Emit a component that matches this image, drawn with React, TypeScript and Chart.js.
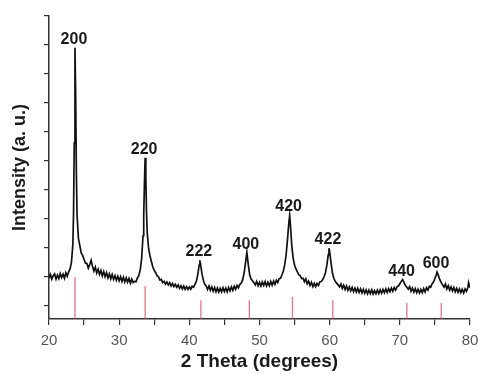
import { useEffect, useRef } from "react";
import { Chart, registerables } from "chart.js";

Chart.register(...registerables);

// XRD scan: [2 theta (deg), intensity (a. u., tick units)]
const xrdScan: [number, number][] = [
  [20.0, 0.93], [20.2, 1.06], [20.4, 0.9], [20.6, 1.02], [20.8, 1.08], [21.0, 0.9],
  [21.2, 1.04], [21.4, 0.92], [21.6, 1.09], [21.8, 0.95], [22.0, 1.07], [22.2, 0.93],
  [22.4, 1.12], [22.6, 1.0], [22.8, 1.15], [23.0, 1.25], [23.2, 1.48], [23.4, 2.1],
  [23.5, 3.2], [23.6, 5.6], [23.7, 8.9], [23.8, 7.3], [23.9, 4.6], [24.0, 3.1],
  [24.2, 2.3], [24.4, 2.05], [24.6, 1.8], [24.8, 1.72], [25.0, 1.58], [25.2, 1.45],
  [25.4, 1.44], [25.6, 1.28], [25.8, 1.4], [26.0, 1.55], [26.2, 1.34], [26.4, 1.18],
  [26.6, 1.32], [26.8, 1.11], [27.0, 1.24], [27.2, 1.06], [27.4, 1.2], [27.6, 1.01],
  [27.8, 1.16], [28.0, 0.98], [28.2, 1.12], [28.4, 0.94], [28.6, 1.08], [28.8, 0.91],
  [29.0, 1.06], [29.2, 0.89], [29.4, 1.02], [29.6, 0.86], [29.8, 1.0], [30.0, 0.84],
  [30.2, 0.98], [30.4, 0.82], [30.6, 0.96], [30.8, 0.8], [31.0, 0.94], [31.2, 0.79],
  [31.4, 0.92], [31.6, 0.76], [31.8, 0.9], [32.0, 0.78], [32.2, 0.82], [32.4, 0.81],
  [32.6, 0.94], [32.8, 1.02], [33.0, 1.22], [33.2, 1.6], [33.4, 2.4], [33.5, 3.1],
  [33.6, 4.2], [33.7, 5.1], [33.8, 4.4], [33.9, 3.2], [34.0, 2.5], [34.2, 1.95],
  [34.4, 1.7], [34.6, 1.5], [34.8, 1.32], [35.0, 1.2], [35.2, 1.12], [35.4, 1.02],
  [35.6, 0.98], [35.8, 0.87], [36.0, 0.89], [36.2, 0.78], [36.4, 0.82], [36.6, 0.72],
  [36.8, 0.8], [37.0, 0.7], [37.2, 0.78], [37.4, 0.66], [37.6, 0.75], [37.8, 0.64],
  [38.0, 0.72], [38.2, 0.62], [38.4, 0.7], [38.6, 0.58], [38.8, 0.67], [39.0, 0.56],
  [39.2, 0.66], [39.4, 0.55], [39.6, 0.64], [39.8, 0.54], [40.0, 0.63], [40.2, 0.55],
  [40.4, 0.65], [40.6, 0.62], [40.8, 0.72], [41.0, 0.82], [41.2, 1.05], [41.4, 1.38],
  [41.5, 1.55], [41.6, 1.42], [41.8, 1.08], [42.0, 0.86], [42.2, 0.72], [42.4, 0.66],
  [42.6, 0.54], [42.8, 0.66], [43.0, 0.51], [43.2, 0.63], [43.4, 0.48], [43.6, 0.61],
  [43.8, 0.46], [44.0, 0.59], [44.2, 0.45], [44.4, 0.58], [44.6, 0.46], [44.8, 0.6],
  [45.0, 0.47], [45.2, 0.59], [45.4, 0.46], [45.6, 0.61], [45.8, 0.49], [46.0, 0.63],
  [46.2, 0.51], [46.4, 0.65], [46.6, 0.55], [46.8, 0.68], [47.0, 0.6], [47.2, 0.72],
  [47.4, 0.76], [47.6, 0.88], [47.8, 1.1], [48.0, 1.45], [48.2, 1.82], [48.4, 1.4],
  [48.6, 1.05], [48.8, 0.9], [49.0, 0.84], [49.2, 0.78], [49.4, 0.7], [49.6, 0.82],
  [49.8, 0.67], [50.0, 0.79], [50.2, 0.66], [50.4, 0.8], [50.6, 0.68], [50.8, 0.81],
  [51.0, 0.66], [51.2, 0.79], [51.4, 0.67], [51.6, 0.82], [51.8, 0.69], [52.0, 0.83],
  [52.2, 0.72], [52.4, 0.86], [52.6, 0.78], [52.8, 0.92], [53.0, 0.93], [53.2, 1.05],
  [53.4, 1.18], [53.6, 1.4], [53.8, 1.75], [54.0, 2.3], [54.2, 2.9], [54.3, 3.1],
  [54.4, 2.8], [54.6, 2.05], [54.8, 1.62], [55.0, 1.38], [55.2, 1.25], [55.4, 1.15],
  [55.6, 1.05], [55.8, 1.02], [56.0, 0.92], [56.2, 0.93], [56.4, 0.81], [56.6, 0.91],
  [56.8, 0.74], [57.0, 0.83], [57.2, 0.68], [57.4, 0.79], [57.6, 0.64], [57.8, 0.75],
  [58.0, 0.64], [58.2, 0.75], [58.4, 0.68], [58.6, 0.8], [58.8, 0.82], [59.0, 0.88],
  [59.2, 0.98], [59.4, 1.12], [59.6, 1.38], [59.8, 1.75], [59.9, 1.97], [60.0, 1.85],
  [60.2, 1.45], [60.4, 1.1], [60.6, 0.92], [60.8, 0.82], [61.0, 0.76], [61.2, 0.7],
  [61.4, 0.63], [61.6, 0.73], [61.8, 0.58], [62.0, 0.69], [62.2, 0.54], [62.4, 0.66],
  [62.6, 0.51], [62.8, 0.63], [63.0, 0.49], [63.2, 0.61], [63.4, 0.47], [63.6, 0.59],
  [63.8, 0.45], [64.0, 0.58], [64.2, 0.44], [64.4, 0.56], [64.6, 0.42], [64.8, 0.55],
  [65.0, 0.41], [65.2, 0.53], [65.4, 0.39], [65.6, 0.52], [65.8, 0.4], [66.0, 0.53],
  [66.2, 0.38], [66.4, 0.5], [66.6, 0.39], [66.8, 0.52], [67.0, 0.4], [67.2, 0.53],
  [67.4, 0.41], [67.6, 0.54], [67.8, 0.43], [68.0, 0.56], [68.2, 0.44], [68.4, 0.57],
  [68.6, 0.46], [68.8, 0.59], [69.0, 0.48], [69.2, 0.61], [69.4, 0.52], [69.6, 0.64],
  [69.8, 0.66], [70.0, 0.74], [70.2, 0.82], [70.4, 0.88], [70.6, 0.78], [70.8, 0.68],
  [71.0, 0.62], [71.2, 0.55], [71.4, 0.64], [71.6, 0.48], [71.8, 0.59], [72.0, 0.45],
  [72.2, 0.57], [72.4, 0.43], [72.6, 0.55], [72.8, 0.42], [73.0, 0.54], [73.2, 0.43],
  [73.4, 0.57], [73.6, 0.46], [73.8, 0.6], [74.0, 0.52], [74.2, 0.65], [74.4, 0.62],
  [74.6, 0.74], [74.8, 0.8], [75.0, 0.92], [75.2, 1.05], [75.3, 1.14], [75.5, 1.02],
  [75.7, 0.88], [75.9, 0.78], [76.1, 0.7], [76.3, 0.62], [76.5, 0.73], [76.7, 0.56],
  [76.9, 0.67], [77.1, 0.52], [77.3, 0.63], [77.5, 0.49], [77.7, 0.61], [77.9, 0.46],
  [78.1, 0.58], [78.3, 0.44], [78.5, 0.56], [78.7, 0.43], [78.9, 0.55], [79.1, 0.42],
  [79.3, 0.56], [79.5, 0.48], [79.7, 0.62], [79.8, 0.78], [80.0, 0.6],
];

// Miller-index labels of the peaks
const hklLabels = ["200", "220", "222", "400", "420", "422", "440", "600"];
const peakAngles = [23.7, 33.7, 41.5, 48.2, 54.3, 59.9, 70.4, 75.3];
const peakIntensities = [8.9, 5.1, 1.55, 1.82, 3.1, 1.97, 0.88, 1.14];

// Reference pattern sticks (red)
const refAngles = [23.7, 33.7, 41.65, 48.55, 54.7, 60.45, 71.0, 75.9];
const refIntensities = [0.97, 0.66, 0.17, 0.17, 0.28, 0.17, 0.07, 0.07];

const xMin = 20;
const xMax = 80;
const yMin = -0.48;
const yMax = 10;

const FONT = '"Liberation Sans", Arial, Helvetica, sans-serif';

const peakLabelPlugin = {
  id: "peakLabels",
  afterDatasetsDraw(chart: any) {
    const { ctx, scales } = chart;
    const xs = scales.x;
    const ys = scales.y;
    ctx.save();
    ctx.font = `bold 16px ${FONT}`;
    ctx.fillStyle = "#1a1a1a";
    ctx.textAlign = "center";
    ctx.textBaseline = "alphabetic";
    hklLabels.forEach((t, i) => {
      ctx.fillText(t, xs.getPixelForValue(peakAngles[i]) - 1, ys.getPixelForValue(peakIntensities[i]) - 4);
    });
    ctx.restore();
  },
};

export default function App() {
  const canvasRef = useRef<HTMLCanvasElement | null>(null);

  useEffect(() => {
    const canvas = canvasRef.current;
    if (!canvas) return;

    const sticks: { x: number; y: number | null }[] = [];
    refAngles.forEach((a, i) => {
      sticks.push({ x: a, y: yMin });
      sticks.push({ x: a, y: refIntensities[i] });
      sticks.push({ x: a, y: null });
    });

    const chart = new Chart(canvas, {
      type: "line",
      data: {
        datasets: [
          {
            label: "XRD",
            data: xrdScan.map(([x, y]) => ({ x, y })),
            borderColor: "#111111",
            borderWidth: 1.7,
            pointRadius: 0,
            tension: 0,
            fill: false,
          },
          {
            label: "Reference",
            data: sticks as any,
            borderColor: "rgba(222, 70, 90, 0.75)",
            borderWidth: 1.3,
            pointRadius: 0,
            spanGaps: false,
            fill: false,
          },
        ],
      },
      options: {
        animation: false,
        responsive: false,
        maintainAspectRatio: false,
        layout: { padding: { left: 0, right: 9, top: 16, bottom: 0 } },
        plugins: {
          legend: { display: false },
          tooltip: { enabled: false },
        },
        scales: {
          x: {
            type: "linear",
            min: xMin,
            max: xMax,
            afterFit: (s: any) => {
              s.height = 55;
              s.paddingLeft = 0;
              s.paddingRight = 0;
            },
            border: { display: true, color: "#333", width: 1.5 },
            grid: { drawOnChartArea: false, drawTicks: true, tickLength: 6, color: "#333", lineWidth: 1.2 },
            ticks: {
              stepSize: 5,
              autoSkip: false,
              maxRotation: 0,
              padding: 7,
              color: "#555",
              font: { family: FONT, size: 15 },
              callback: (v: any) => (Number(v) % 10 === 0 ? String(v) : ""),
            },
            title: {
              display: true,
              text: "2 Theta (degrees)",
              color: "#1a1a1a",
              font: { family: FONT, size: 19, weight: "bold" },
              padding: { top: 0, bottom: 1 },
            },
          },
          y: {
            type: "linear",
            min: yMin,
            max: yMax,
            afterFit: (s: any) => {
              s.width = 49;
              s.paddingTop = 0;
              s.paddingBottom = 0;
            },
            border: { display: true, color: "#333", width: 1.5 },
            grid: { drawOnChartArea: false, drawTicks: true, tickLength: 5, color: "#333", lineWidth: 1.2 },
            ticks: {
              stepSize: 1,
              includeBounds: false,
              autoSkip: false,
              callback: () => "",
            },
            title: {
              display: true,
              text: "Intensity (a. u.)",
              color: "#1a1a1a",
              font: { family: FONT, size: 18, weight: "bold" },
              padding: { top: 9, bottom: 0 },
            },
          },
        },
      },
      plugins: [peakLabelPlugin],
    });

    return () => chart.destroy();
  }, []);

  return (
    <div style={{ position: "absolute", left: 0, top: 0, width: 479, height: 374, background: "#fff" }}>
      <canvas ref={canvasRef} width={479} height={374} />
    </div>
  );
}
